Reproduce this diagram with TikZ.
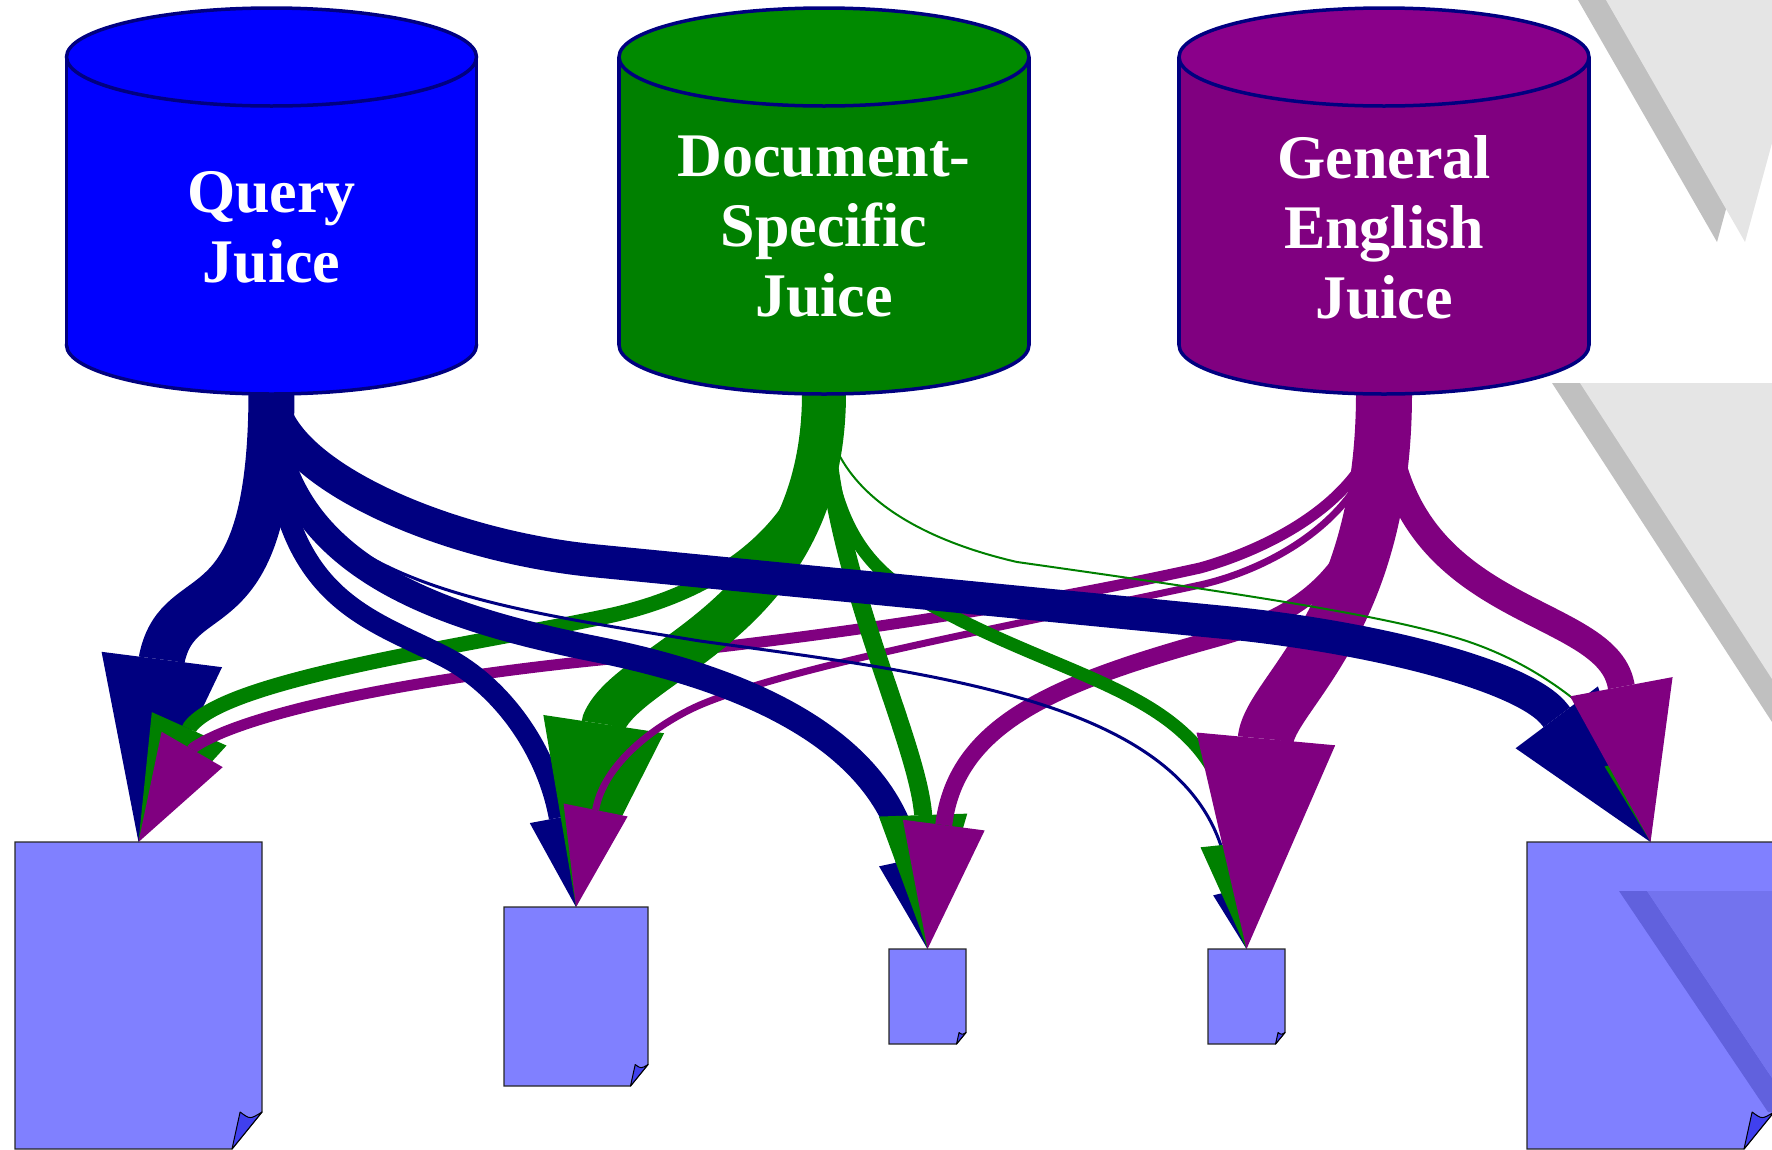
\documentclass[tikz,border=0pt]{standalone}
\usepackage{fontspec}
\setmainfont{Liberation Serif}
\usetikzlibrary{arrows.meta,calc}
\definecolor{qcol}{HTML}{000080}
\definecolor{gcol}{HTML}{008000}
\definecolor{pcol}{HTML}{800080}
\definecolor{qtank}{HTML}{0000FF}
\definecolor{gtank}{HTML}{008000}
\definecolor{gtanklid}{HTML}{008A00}
\definecolor{ptank}{HTML}{800080}
\definecolor{ptanklid}{HTML}{8A008A}
\definecolor{rim}{HTML}{000080}
\definecolor{pagecol}{HTML}{8080FF}
\definecolor{foldcol}{HTML}{4040EE}
\definecolor{ghostlight}{HTML}{E5E5E5}
\definecolor{ghostdark}{HTML}{C0C0C0}
\definecolor{ghostblue}{HTML}{7373EE}
\definecolor{ghostband}{HTML}{6161DD}
\tikzstyle{juice}=[text=white,font=\bfseries\fontsize{62}{70}\selectfont,align=center]
\tikzstyle{doc}=[rectangle,inner sep=0pt,outer sep=0pt]
\tikzstyle{pagefill}=[fill=pagecol,draw=black!85,line width=1.2pt]
\tikzstyle{foldfill}=[fill=foldcol,draw=black,line width=1pt,line join=round]
\tikzset{flow/.style n args={3}{draw=#1,line width=#2pt,line join=round,
  -{Triangle[length=#3pt,width'=0pt 0.66,line width=0pt]}}}
% a juice tank: centre x, body colour, lid colour
\newcommand\tank[3]{%
  \filldraw[fill=#2,draw=rim,line width=3.5pt] (#1,345) ellipse [x radius=205pt,y radius=49pt];
  \fill[#2] (#1-205,57) rectangle (#1+205,345);
  \draw[rim,line width=3.5pt] (#1-205,57) -- (#1-205,345) (#1+205,57) -- (#1+205,345);
  \filldraw[fill=#3,draw=rim,line width=3.5pt] (#1,57) ellipse [x radius=205pt,y radius=49pt];
}
% a page with a folded corner: node, fold width, fold height
\newcommand\page[3]{%
  \filldraw[pagefill] (#1.north west) -- (#1.north east)
    -- ($(#1.south east)+(0,-#3)$) -- ($(#1.south east)+(-#2,0)$)
    -- (#1.south west) -- cycle;
  \filldraw[foldfill] ($(#1.south east)+(-0.73*#2,-#3)$)
    .. controls ($(#1.south east)+(-0.4*#2,-0.8*#3)$) .. ($(#1.south east)+(0,-#3)$)
    -- ($(#1.south east)+(-#2,0)$) -- cycle;
}

\begin{document}
\begin{tikzpicture}[x=1pt,y=1pt,yscale=-1]
\useasboundingbox (0,0) rectangle (1772,1149);

% grey shapes on the right
\fill[ghostdark] (1578,0) -- (1744,0) -- (1744,143) -- (1717,242) -- cycle;
\fill[ghostlight] (1606,0) -- (1772,0) -- (1772,143) -- (1745,242) -- cycle;
\fill[ghostdark] (1552,383) -- (1772,383) -- (1772,722) -- cycle;
\fill[ghostlight] (1580,383) -- (1772,383) -- (1772,679) -- cycle;

% pages
\node[doc,minimum width=247pt,minimum height=307pt] (doc1) at (138.5,995.5) {};
\node[doc,minimum width=144pt,minimum height=179pt] (doc2) at (576,996.5) {};
\node[doc,minimum width=77pt,minimum height=95pt] (doc3) at (927.5,996.5) {};
\node[doc,minimum width=77pt,minimum height=95pt] (doc4) at (1246.5,996.5) {};
\node[doc,minimum width=247pt,minimum height=307pt] (doc5) at (1650.5,995.5) {};
\page{doc1}{30}{37}
\page{doc2}{17.5}{21.5}
\page{doc3}{9.5}{11.5}
\page{doc4}{9.5}{11.5}
\page{doc5}{30}{37}
\fill[ghostband] (1619,891) -- (1647,891) -- (1772,1078) -- (1772,1112) -- (1768,1112) -- cycle;
\fill[ghostblue] (1647,891) -- (1772,891) -- (1772,1078) -- cycle;

% taps under the tanks
\coordinate (qtap) at (271.5,393);
\coordinate (gtap) at (824,393);
\coordinate (ptap) at (1384,393);

% flows into page 1
\draw[flow={qcol}{46}{184}] (qtap) .. controls (271,640) and (180,575) .. (162,658) -- (doc1.north);
\draw[flow={gcol}{15}{124}] (gtap) .. controls (824,520) and (725,591) .. (608,616)
  .. controls (461,647) and (226,679) .. (190,727) -- (doc1.north);
\draw[flow={pcol}{11}{107}] (ptap) .. controls (1384,500) and (1258,552) .. (1200,568)
  .. controls (1000,612) and (800,640) .. (600,660)
  .. controls (400,680) and (240,715) .. (193,748) -- (doc1.north);
% flows into page 2
\draw[flow={qcol}{21}{91}] (qtap) .. controls (271,600) and (367,616) .. (447,658)
  .. controls (500,686) and (546,747) .. (559,816) -- (doc2.north);
\draw[flow={gcol}{44}{185}] (gtap) .. controls (824,620) and (632,658) .. (604,722) -- (doc2.north);
\draw[flow={pcol}{7}{99}] (ptap) .. controls (1384,520) and (1259,572) .. (1200,585)
  .. controls (1005,627) and (792,666) .. (700,705)
  .. controls (663,721) and (606,759) .. (596,808) -- (doc2.north);
% flows into page 3
\draw[flow={qcol}{26}{91}] (qtap) .. controls (271,570) and (450,620) .. (600,650)
  .. controls (727,676) and (882,731) .. (908,858) -- (doc3.north);
\draw[flow={gcol}{18}{134}] (gtap) .. controls (824,560) and (915,730) .. (923,813) -- (doc3.north);
\draw[flow={pcol}{17}{125}] (ptap) .. controls (1384,600) and (1267,624) .. (1200,643)
  .. controls (1056,684) and (957,724) .. (944,823) -- (doc3.north);
% flows into page 4
\draw[flow={qcol}{3}{60}] (qtap) .. controls (271,580) and (480,605) .. (700,641)
  .. controls (950,675) and (1188,704) .. (1225,860) -- (doc4.north);
\draw[flow={gcol}{13}{106}] (gtap) .. controls (824,560) and (898,588) .. (960,620)
  .. controls (1100,690) and (1220,702) .. (1235,841) -- (doc4.north);
\draw[flow={pcol}{56}{211}] (ptap) .. controls (1384,620) and (1275,690) .. (1266,737) -- (doc4.north);
% flows into page 5
\draw[flow={qcol}{33}{156}] (qtap) .. controls (271,470) and (440,546) .. (597,561) -- (1220,622)
  .. controls (1369,636) and (1525,675) .. (1555,715) -- (doc5.north);
\draw[flow={gcol}{2}{84}] (gtap) .. controls (824,500) and (939,544) .. (1017,562)
  .. controls (1250,595) and (1380,615) .. (1457,638)
  .. controls (1540,663) and (1600,715) .. (1631,758) -- (doc5.north);
\draw[flow={pcol}{27}{158}] (ptap) .. controls (1384,620) and (1605,600) .. (1621,685) -- (doc5.north);

% tanks
\tank{271.5}{qtank}{qtank}
\tank{824}{gtank}{gtanklid}
\tank{1384}{ptank}{ptanklid}
\node[juice] (query) at (271.5,227) {Query\\Juice};
\node[juice] (docspec) at (824,227) {Document-\\Specific\\Juice};
\node[juice] (general) at (1384,227) {General\\English\\Juice};
\end{tikzpicture}
\end{document}
